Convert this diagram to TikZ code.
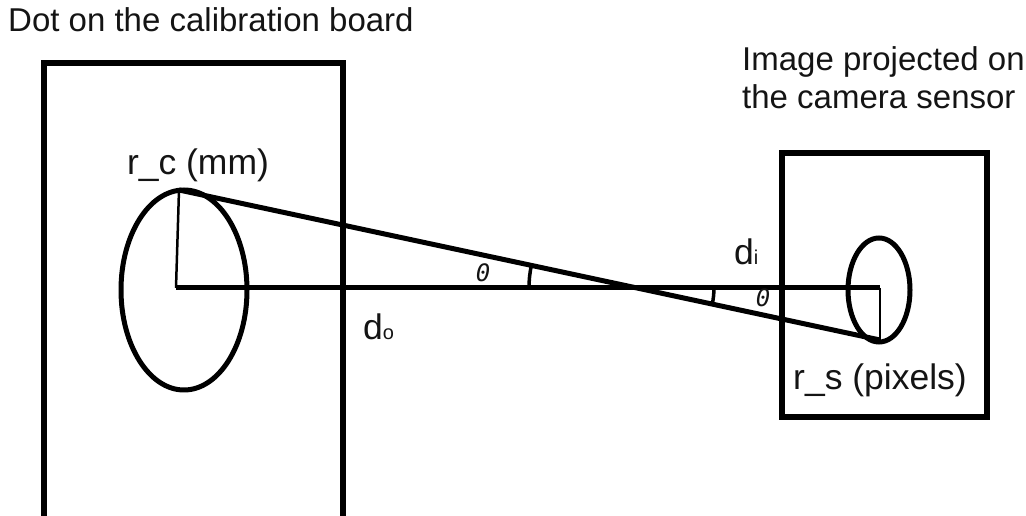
\documentclass[tikz,border=0pt]{standalone}
\usepackage{fontspec}
\setmainfont{Liberation Sans}
\newfontfamily\thetafont{DejaVu Sans Mono}
\usepackage{tikz}
\usetikzlibrary{shapes.geometric, angles, calc}
\definecolor{mydark}{RGB}{0,0,0}
\definecolor{mytext}{RGB}{20,20,20}
\tikzset{
  frame/.style={draw=mydark, line width=5.5pt},
  spot/.style={ellipse, draw=mydark, line width=5pt, inner sep=0pt},
  ray/.style={draw=mydark, line width=5pt},
  radline/.style={draw=mydark, line width=2.5pt},
  anglemark/.style={draw=mydark, line width=3.5pt},
  lbl/.style={font=\fontsize{33}{38}\selectfont, text=mytext, inner sep=0pt},
  biglbl/.style={font=\fontsize{35.5}{40}\selectfont, text=mytext, inner sep=0pt},
  thetalbl/.style={font=\thetafont\itshape\fontsize{24}{24}\selectfont, text=mytext, inner sep=0pt}
}

\begin{document}
\begin{tikzpicture}[x=1pt, y=1pt]
  \useasboundingbox (0,0) rectangle (1026,516);

  % board and sensor
  \draw[frame] (44,453) rectangle (343,-10);
  \draw[frame] (782,363) rectangle (987,99);

  % dots
  \node[spot, minimum width=126pt, minimum height=200pt] (dotc) at (184,226) {};
  \node[spot, minimum width=62pt, minimum height=104pt] (dots) at (879,226) {};

  \coordinate (cc) at (176,228);
  \coordinate (ctop) at (179,326);
  \coordinate (sc) at (880,228);
  \coordinate (sbot) at (880,176);
  \coordinate (cross) at ($(ctop)!0.6533!(sbot)$);

  \draw[ray] (cc) -- (sc);
  \draw[ray] (ctop) -- (sbot);
  \draw[radline] (cc) -- (ctop);
  \draw[radline] (sc) -- (sbot);

  % angles
  \pic[anglemark, angle radius=108pt] {angle = ctop--cross--cc};
  \pic[anglemark, angle radius=77pt] {angle = sbot--cross--sc};

  % labels
  \node[lbl, anchor=base west] (title) at (8,484) {Dot on the calibration board};
  \node[lbl, anchor=north west, align=left] (sensor) at (742,470)
    {Image projected on\\the camera sensor};
  \node[biglbl, anchor=base] (rc) at (198,341) {r\_c (mm)};
  \node[biglbl, anchor=base] (rs) at (880,126) {r\_s (pixels)};
  \node[biglbl, anchor=base west] (do) at (363,176) {d{\fontsize{20}{20}\selectfont o}};
  \node[biglbl, anchor=base west] (di) at (734,251) {d{\fontsize{20}{20}\selectfont i}};
  \node[thetalbl] (th1) at (483,243) {0};
  \node[thetalbl] (th2) at (763,218) {0};
\end{tikzpicture}
\end{document}
